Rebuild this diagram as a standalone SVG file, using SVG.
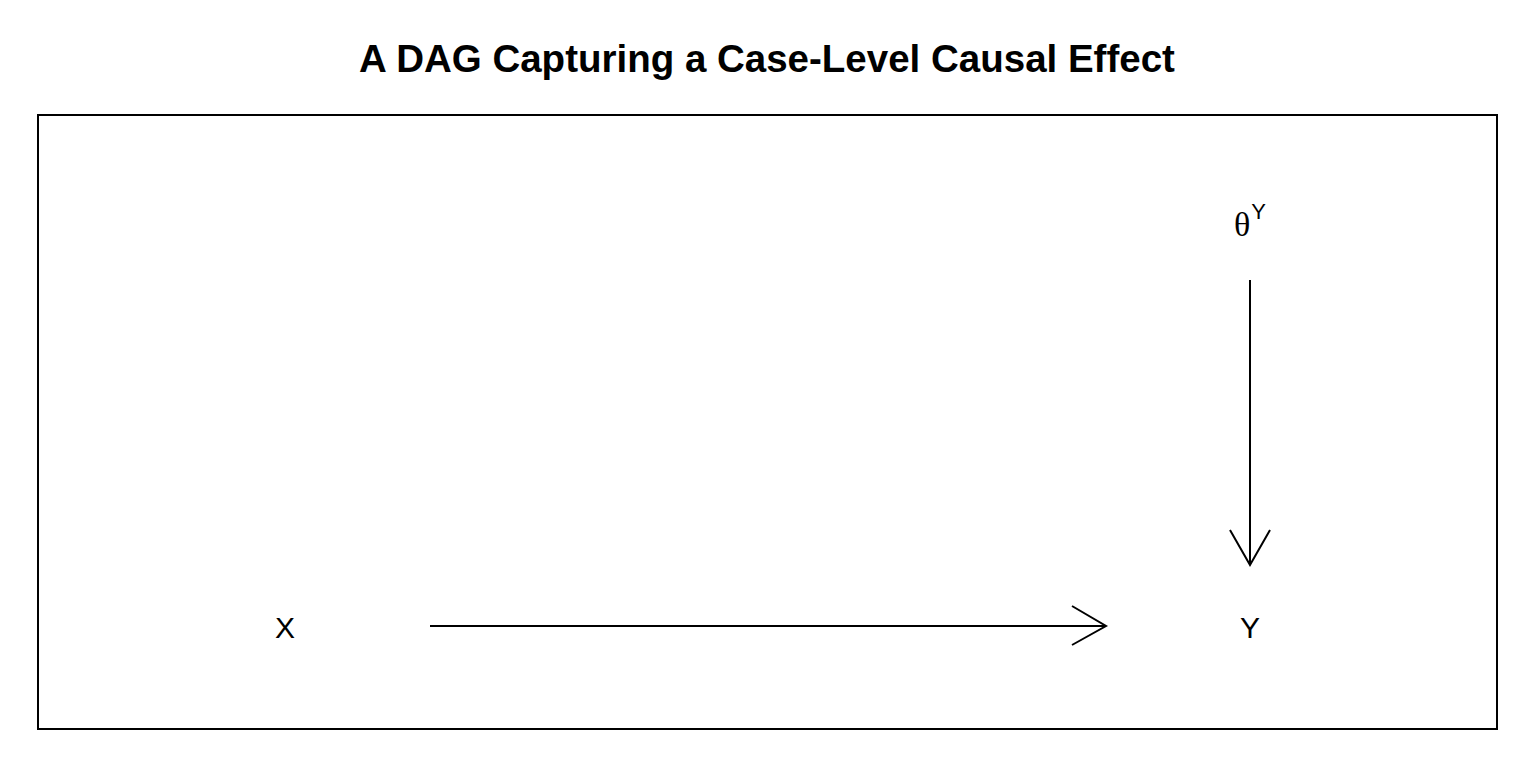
<svg xmlns="http://www.w3.org/2000/svg" width="1536" height="768" viewBox="0 0 1536 768">
<style>
.lbl{font-family:"Liberation Sans",Arial,sans-serif;font-size:30px;fill:#000}
.edge{stroke:#000;stroke-width:2;fill:none}
</style>
<rect width="1536" height="768" fill="#fff"/>
<text x="767" y="72" text-anchor="middle" font-family="Liberation Sans,Arial,sans-serif" font-weight="bold" font-size="38.5" fill="#000">A DAG Capturing a Case-Level Causal Effect</text>
<rect x="38" y="115" width="1459" height="614" fill="none" stroke="#000" stroke-width="2"/>
<g id="edges">
<path class="edge" d="M430 626H1106M1072 606L1106 626L1072 645"/>
<path class="edge" d="M1250 280V565M1230 530L1250 565L1270 530"/>
</g>
<g id="X"><text class="lbl" x="285" y="638" text-anchor="middle">X</text></g>
<g id="Y"><text class="lbl" x="1250" y="638" text-anchor="middle">Y</text></g>
<g id="thetaY"><text x="1234" y="236" font-family="Liberation Serif,serif" font-size="34" fill="#000">θ<tspan font-family="Liberation Sans,Arial,sans-serif" font-size="22" dx="1" dy="-17">Y</tspan></text></g>
</svg>
